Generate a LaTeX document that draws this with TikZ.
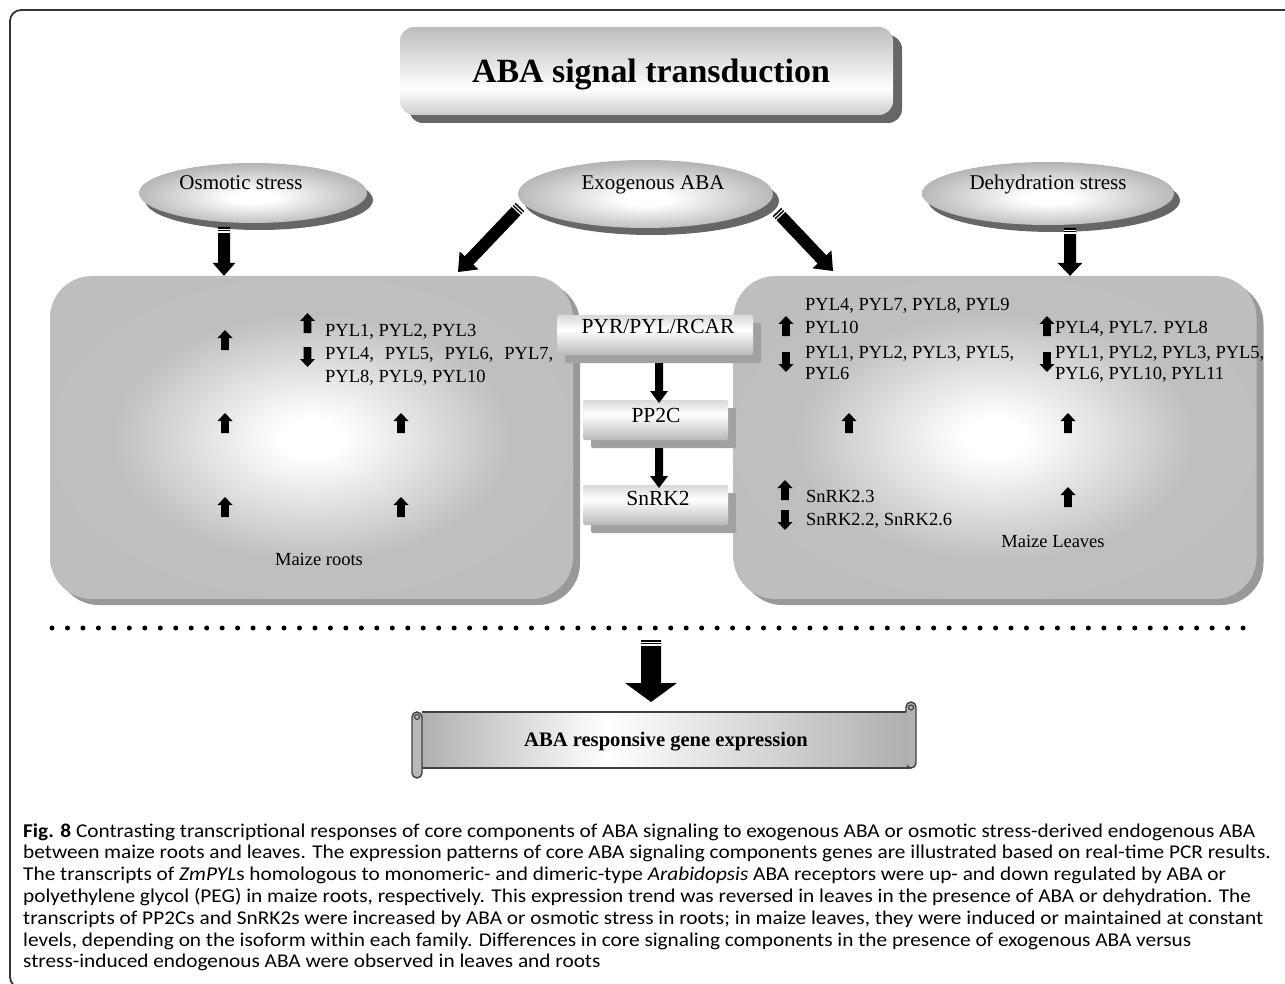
\documentclass[tikz,border=0pt]{standalone}
\usepackage{fontspec}
\setmainfont{Liberation Serif}
\newfontfamily\capfont{Carlito}
\usepackage{graphicx}
\usetikzlibrary{calc,shapes.geometric,shadows}

\pgfdeclareradialshading{boxsh}{\pgfpoint{0bp}{0bp}}{color(0bp)=(white); color(3bp)=(white); color(19bp)=(gray!50); color(50bp)=(gray!53)}
\pgfdeclareradialshading{ellsh}{\pgfpoint{0bp}{-4bp}}{color(0bp)=(white); color(5bp)=(white); color(27bp)=(gray!60); color(50bp)=(gray!60)}
\pgfdeclareverticalshading{titlesh}{100bp}{color(0bp)=(gray!40); color(25bp)=(gray!40); color(40bp)=(white); color(75bp)=(gray!52); color(100bp)=(gray!52)}
\pgfdeclareverticalshading{midsh}{100bp}{color(0bp)=(gray!55); color(25bp)=(gray!55); color(57bp)=(white); color(75bp)=(gray!30); color(100bp)=(gray!30)}
\pgfdeclarehorizontalshading{scrollsh}{100bp}{color(0bp)=(gray!62); color(25bp)=(gray!62); color(44bp)=(white); color(75bp)=(gray!62); color(100bp)=(gray!62)}

\newlength\capwd
% #1 tail, #2 tip, #3 half shaft, #4 half head, #5 head length, #6 striped (1/0)
\newcommand\blockarr[6]{%
  \coordinate (bah) at ($(#2)!#5!(#1)$);
  \fill[black] ($(#1)!#3!90:(#2)$) -- ($(bah)!#3!90:(#2)$) -- ($(bah)!#4!90:(#2)$) -- (#2)
     -- ($(bah)!#4!-90:(#2)$) -- ($(bah)!#3!-90:(#2)$) -- ($(#1)!#3!-90:(#2)$) -- cycle;
  \ifnum#6=1
    \foreach \d in {2.2pt,5pt}{
      \draw[white,line width=1.1pt] ($($(#1)!\d!(#2)$)!#3+0.3pt!90:(#2)$) -- ($($(#1)!\d!(#2)$)!#3+0.3pt!-90:(#2)$);}
  \fi}

\begin{document}
\settowidth\capwd{\capfont\fontsize{19.5}{22}\selectfont transcripts of PP2Cs and SnRK2s were increased by ABA or osmotic stress in roots; in maize leaves, they were induced or maintained at constant}%
\pgfmathsetmacro\capsx{1240/\capwd}%
\begin{tikzpicture}[x=1pt,y=-1pt,
  lbl/.style={inner sep=0pt, anchor=base west, font=\fontsize{18.5}{22}\selectfont},
  lblc/.style={lbl, anchor=base},
  elltxt/.style={inner sep=0pt, anchor=base, font=\fontsize{21}{25}\selectfont},
  midtxt/.style={inner sep=0pt, anchor=base, font=\fontsize{21.5}{25}\selectfont},
  ell/.style={ellipse, inner sep=0pt, shading=ellsh,
     drop shadow={shadow xshift=6pt, shadow yshift=-7pt, fill=black!60, opacity=1}},
  bigbox/.style={rectangle, inner sep=0pt, rounded corners=42pt, shading=boxsh,
     minimum width=523pt, minimum height=323pt,
     drop shadow={shadow xshift=7pt, shadow yshift=-6pt, fill=black!40, opacity=1}},
  midbox/.style={rectangle, inner sep=0pt, rounded corners=1.5pt, shading=midsh, minimum height=40pt,
     drop shadow={shadow xshift=8pt, shadow yshift=-8pt, fill=black!37, opacity=1}},
  captxt/.style={inner sep=0pt, anchor=base west, font=\capfont\fontsize{19.5}{22}\selectfont},
  uparr/.pic={\fill (-3.8,10) -- (3.8,10) -- (3.8,-2) -- (7.5,-2) -- (0,-10) -- (-7.5,-2) -- (-3.8,-2) -- cycle;},
  downarr/.pic={\fill (-3.8,-10) -- (3.8,-10) -- (3.8,2) -- (7.5,2) -- (0,10) -- (-7.5,2) -- (-3.8,2) -- cycle;},
  scrollline/.style={draw=black!75, line width=1.4pt}
]
\useasboundingbox (0,0) rectangle (1285,984);

% title
\node[rectangle, inner sep=0pt, rounded corners=14pt, minimum width=493pt, minimum height=88pt, shading=titlesh,
  drop shadow={shadow xshift=9pt, shadow yshift=-8pt, fill=black!60, opacity=1}] (title) at (646.5,71) {};
\node[inner sep=0pt, anchor=base, font=\bfseries\fontsize{33.9}{40}\selectfont] (titleT) at (651,83) {ABA signal transduction};

% ellipses
\node[ell, minimum width=228pt, minimum height=60pt] (osm) at (253,193) {};
\node[ell, minimum width=255pt, minimum height=68pt] (exo) at (645.5,194) {};
\node[ell, minimum width=252pt, minimum height=63pt] (deh) at (1048,193.5) {};
\node[elltxt] (osmT) at (241,190) {Osmotic stress};
\node[elltxt] (exoT) at (653,190) {Exogenous ABA};
\node[elltxt] (dehT) at (1048,190) {Dehydration stress};

% big boxes
\node[bigbox] (roots) at (311.5,437.5) {};
\node[bigbox] (leaves) at (995,437.5) {};

% middle boxes
\node[midbox, minimum width=196pt] (pyr) at (655,335) {};
\node[midbox, minimum width=145pt] (pp2c) at (655.5,420) {};
\node[midbox, minimum width=145pt] (snrk) at (655.5,505) {};
\node[midtxt] (pyrT) at (658,334) {PYR/PYL/RCAR};
\node[midtxt] (pp2cT) at (656,422) {PP2C};
\node[midtxt] (snrkT) at (658,505) {SnRK2};

% arrows from stresses
\coordinate (a1s) at (224,227);
\coordinate (a1e) at (a1s |- roots.north);
\blockarr{a1s}{a1e}{6pt}{11.5pt}{13pt}{1}
\coordinate (a4s) at (1070,228);
\coordinate (a4e) at (a4s |- leaves.north);
\blockarr{a4s}{a4e}{6pt}{12.5pt}{13pt}{1}
\coordinate (a2s) at (520,207);
\coordinate (a2e) at (458,272);
\blockarr{a2s}{a2e}{6pt}{13pt}{16pt}{1}
\coordinate (a3s) at (777,212);
\coordinate (a3e) at (833,271);
\blockarr{a3s}{a3e}{6pt}{13pt}{16pt}{1}

% middle arrows
\coordinate (m1s) at (659,363);
\coordinate (m1e) at (659,403);
\blockarr{m1s}{m1e}{4pt}{9pt}{12pt}{0}
\coordinate (m2s) at (659,448);
\coordinate (m2e) at (659,488);
\blockarr{m2s}{m2e}{4pt}{9pt}{12pt}{0}

% left box contents
\pic at (307.5,323) {uparr};
\pic at (307.5,357) {downarr};
\node[lbl] (r1) at (325,336) {PYL1, PYL2, PYL3};
\node[lbl] (r2) at (325,359.5) {\makebox[228pt][s]{PYL4, PYL5, PYL6, PYL7,}};
\node[lbl] (r3) at (325,382) {PYL8, PYL9, PYL10};
\pic at (225,340) {uparr};
\pic at (225,423) {uparr};
\pic at (401,423) {uparr};
\pic at (225,507) {uparr};
\pic at (401,507) {uparr};
\node[lblc] (rootsT) at (319,565) {Maize roots};

% right box contents
\pic at (786,326) {uparr};
\pic at (786,362) {downarr};
\node[lbl] (l1) at (805,311) {PYL4, PYL7, PYL8, PYL9};
\node[lbl] (l2) at (805,334) {PYL10};
\node[lbl] (l3) at (805,358) {PYL1, PYL2, PYL3, PYL5,};
\node[lbl] (l4) at (805,379) {PYL6};
\pic at (1047,326) {uparr};
\pic at (1047,362) {downarr};
\node[lbl] (d1) at (1055,334) {PYL4, PYL7. PYL8};
\node[lbl] (d2) at (1055,358) {PYL1, PYL2, PYL3, PYL5,};
\node[lbl] (d3) at (1055,379) {PYL6, PYL10, PYL11};
\pic at (849,423) {uparr};
\pic at (1068,423) {uparr};
\pic at (1068,497) {uparr};
\pic at (785,490) {uparr};
\pic at (785,520) {downarr};
\node[lbl] (s1) at (806,502) {SnRK2.3};
\node[lbl] (s2) at (806,525) {SnRK2.2, SnRK2.6};
\node[lblc] (leavesT) at (1053,547) {Maize Leaves};

% dotted separator
\foreach \i in {0,...,77} \fill ({52+\i*15.468},628) circle[radius=2.5pt];

% scroll
\filldraw[scrollline, fill=gray!60, rounded corners=5pt] (906,702) rectangle (916,768);
\path[shading=scrollsh] (422,712) rectangle (906.7,767.3);
\draw[scrollline] (422,712) -- (906,712);
\draw[scrollline] (422,768) -- (911,768);
\filldraw[scrollline, fill=gray!55, rounded corners=5pt] (412,712) rectangle (422,778);
\draw[scrollline, line width=1.1pt] (417,717) circle[radius=2.5pt];
\draw[scrollline, line width=1.1pt] (911,707.5) circle[radius=2.5pt];
\node[inner sep=0pt, anchor=base, font=\bfseries\fontsize{20.6}{24}\selectfont] (scrollT) at (666,746) {ABA responsive gene expression};

% bottom arrow
\coordinate (bs) at (651,640);
\coordinate (be) at (651,702);
\blockarr{bs}{be}{10pt}{26pt}{19pt}{1}

% caption
\node[captxt] (c1) at (23,837) {\scalebox{\capsx}[1]{\textbf{Fig. 8} Contrasting transcriptional responses of core components of ABA signaling to exogenous ABA or osmotic stress-derived endogenous ABA}};
\node[captxt] (c2) at (23,858.8) {\scalebox{\capsx}[1]{between maize roots and leaves. The expression patterns of core ABA signaling components genes are illustrated based on real-time PCR results.}};
\node[captxt] (c3) at (23,880.6) {\scalebox{\capsx}[1]{The transcripts of \textit{ZmPYL}s homologous to monomeric- and dimeric-type \textit{Arabidopsis} ABA receptors were up- and down regulated by ABA or}};
\node[captxt] (c4) at (23,902.4) {\scalebox{\capsx}[1]{polyethylene glycol (PEG) in maize roots, respectively. This expression trend was reversed in leaves in the presence of ABA or dehydration. The}};
\node[captxt] (c5) at (23,924.2) {\scalebox{\capsx}[1]{transcripts of PP2Cs and SnRK2s were increased by ABA or osmotic stress in roots; in maize leaves, they were induced or maintained at constant}};
\node[captxt] (c6) at (23,946) {\scalebox{\capsx}[1]{levels, depending on the isoform within each family. Differences in core signaling components in the presence of exogenous ABA versus}};
\node[captxt] (c7) at (23,967.8) {\scalebox{\capsx}[1]{stress-induced endogenous ABA were observed in leaves and roots}};

% outer border
\draw[black!80, line width=1.8pt, rounded corners=11pt] (1295,10) -- (10,10) -- (10,988) -- (60,988);
\end{tikzpicture}
\end{document}
